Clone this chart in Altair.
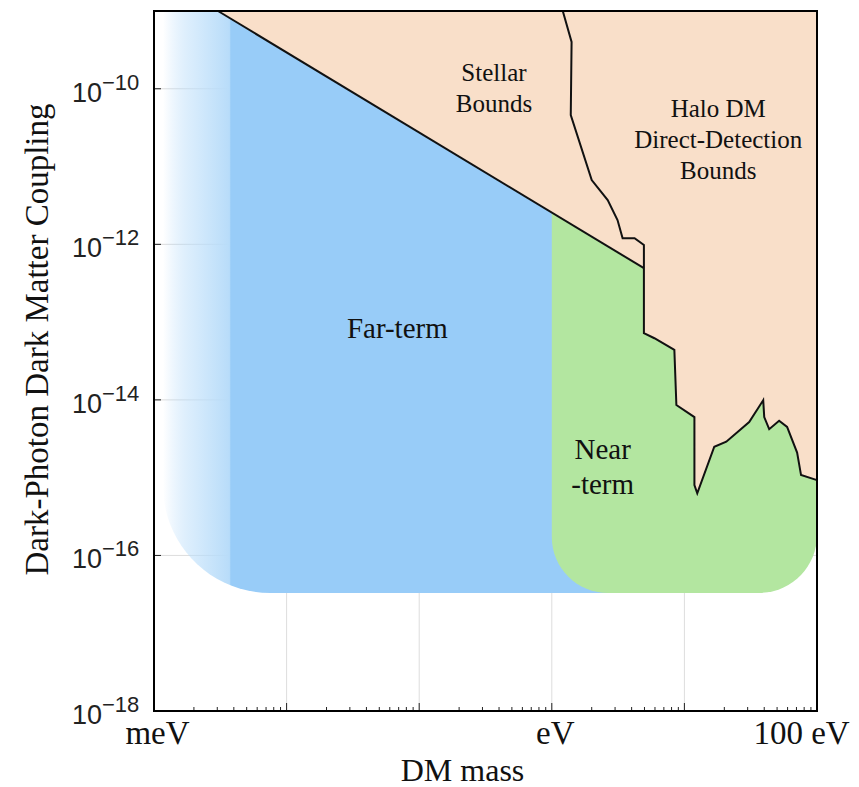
import altair as alt
import pandas as pd

# ---------------- data ----------------
X_DOMAIN = [1e-3, 100]          # DM mass, eV
Y_DOMAIN = [1e-18, 1e-9]        # coupling

x_label_values = [1e-3, 1, 100]
x_label_texts = ["meV", "eV", "100 eV"]
x_major_ticks = [1e-2, 1e-1, 1, 10]
x_minor_ticks = [d * 10.0 ** k for k in range(-3, 2) for d in range(2, 10)]

y_major_ticks = [1e-10, 1e-12, 1e-14, 1e-16, 1e-18]
y_exponents = ["\u221210", "\u221212", "\u221214", "\u221216", "\u221218"]

# stellar bound (straight line in log-log)
stellar_mass = [3.04e-3, 4.95]
stellar_coupling = [1e-9, 4.94e-13]

# halo DM direct-detection bound
halo_mass = [1.21, 1.41, 1.39, 2.0, 2.64, 3.13, 3.42, 4.21, 4.95, 4.95, 4.95, 5.94,
             8.4, 8.7, 11.9, 11.9, 12.5, 16.8, 20.7, 30.8, 39.3, 40.0, 43.6, 51.8,
             59.5, 70.8, 75.8, 100]
halo_coupling = [1e-9, 4.0e-10, 4.6e-11, 6.7e-12, 3.7e-12, 2.05e-12, 1.2e-12, 1.2e-12,
                 9.8e-13, 4.94e-13, 7.2e-14, 6.2e-14, 4.4e-14, 8.6e-15, 6.0e-15, 8.0e-16,
                 6.3e-16, 2.5e-15, 2.9e-15, 5.2e-15, 9.9e-15, 6.0e-15, 4.2e-15, 5.4e-15,
                 4.5e-15, 2.1e-15, 1.08e-15, 9.3e-16]
halo_join_index = 9   # where the halo bound meets the stellar line

far_mass = [1.17e-3, 4.95]
near_mass = [1, 100]
sensitivity_floor = 3.3e-17

# label anchors = centre of the first text line
labels_small = [
    {"m": 0.366, "g": 1.59e-10, "text": "Stellar\nBounds"},
    {"m": 18.0, "g": 5.47e-11, "text": "Halo DM\nDirect-Detection\nBounds"},
]
labels_big = [
    {"m": 0.0684, "g": 8.1e-14, "text": "Far-term"},
    {"m": 2.42, "g": 2.27e-15, "text": "Near\n-term"},
]

# ---------------- colours ----------------
BLUE = "#98CCF8"
GREEN = "#B3E6A0"
PEACH = "#F9DFC9"
W, H = 663, 700

xs = alt.Scale(type="log", domain=X_DOMAIN, nice=False)
ys = alt.Scale(type="log", domain=Y_DOMAIN, nice=False)

label_expr = (f"datum.value < 0.01 ? '{x_label_texts[0]}' : "
              f"(datum.value < 10 ? '{x_label_texts[1]}' : '{x_label_texts[2]}')")

X_AXIS = alt.Axis(values=x_label_values, labelExpr=label_expr, grid=False, ticks=False,
                  tickSize=0, domain=False, labelFont="Liberation Serif", labelFontSize=33,
                  labelColor="#111", labelBaseline="alphabetic", labelPadding=32,
                  labelFlush=False, labelOverlap=False, labelBound=False,
                  labelOffset={"condition": {"test": "datum.value >= 50", "value": -16}, "value": 3},
                  title="DM mass", titleFont="Liberation Serif", titleFontSize=32,
                  titleFontWeight="normal", titleColor="#111", titleX=308, titleY=69,
                  titleAlign="center", titleBaseline="alphabetic")
Y_AXIS = alt.Axis(labels=False, ticks=False, domain=False, grid=False,
                  title="Dark-Photon Dark Matter Coupling", titleFont="Liberation Serif",
                  titleFontSize=33, titleFontWeight="normal", titleColor="#111",
                  titleX=-107, titleY=328, titleAngle=270, titleAlign="center",
                  titleBaseline="alphabetic")


def X(f):
    return alt.X(f, type="quantitative", scale=xs, axis=X_AXIS)


def Y(f):
    return alt.Y(f, type="quantitative", scale=ys, axis=Y_AXIS)


one = pd.DataFrame({"a": [0]})

# grid
xgrid = alt.Chart(pd.DataFrame({"m": x_major_ticks})).mark_rule(
    color="#dddddd", strokeWidth=1).encode(x=X("m"))
ygrid = alt.Chart(pd.DataFrame({"g": y_major_ticks[:-1]})).mark_rule(
    color="#dddddd", strokeWidth=1).encode(y=Y("g"))

# far-term region (blue, faded on the left)
grad = alt.Gradient(gradient="linear", x1=0, x2=1, y1=0, y2=0, stops=[
    alt.GradientStop(offset=0, color="rgba(152,204,248,0)"),
    alt.GradientStop(offset=0.06, color="rgba(185,221,250,0.55)"),
    alt.GradientStop(offset=0.138, color="#B8DCF9"),
    alt.GradientStop(offset=0.141, color=BLUE),
    alt.GradientStop(offset=1, color=BLUE),
])
far_df = pd.DataFrame({"m1": [far_mass[0]], "m2": [far_mass[1]],
                       "g1": [sensitivity_floor], "g2": [Y_DOMAIN[1]]})
far = alt.Chart(far_df).mark_rect(fill=grad, cornerRadiusBottomLeft=107).encode(
    x=X("m1"), x2="m2", y=Y("g1"), y2="g2")

near_df = pd.DataFrame({"m1": [near_mass[0]], "m2": [near_mass[1]],
                        "g1": [sensitivity_floor], "g2": [Y_DOMAIN[1]]})
near = alt.Chart(near_df).mark_rect(color=GREEN, cornerRadiusBottomLeft=56,
                                    cornerRadiusBottomRight=58).encode(
    x=X("m1"), x2="m2", y=Y("g1"), y2="g2")

# excluded region (peach): between the top edge and the stellar + halo boundary
bound_m = stellar_mass + halo_mass[halo_join_index + 1:]
bound_g = stellar_coupling + halo_coupling[halo_join_index + 1:]
peach_df = pd.DataFrame({"m": bound_m, "g": bound_g, "top": [Y_DOMAIN[1]] * len(bound_m)})
peach = alt.Chart(peach_df).mark_area(color=PEACH, opacity=1, interpolate="linear").encode(
    x=X("m"), y=Y("g"), y2="top")

# black boundary lines
stellar_df = pd.DataFrame({"m": stellar_mass, "g": stellar_coupling, "i": [0, 1]})
stellar_line = alt.Chart(stellar_df).mark_line(color="#111", strokeWidth=2).encode(
    x=X("m"), y=Y("g"), order="i:Q")
halo_df = pd.DataFrame({"m": halo_mass, "g": halo_coupling, "i": list(range(len(halo_mass)))})
halo_line = alt.Chart(halo_df).mark_line(color="#111", strokeWidth=2, strokeJoin="miter").encode(
    x=X("m"), y=Y("g"), order="i:Q")

# region labels
txt_small = alt.Chart(pd.DataFrame(labels_small)).mark_text(
    font="Liberation Serif", fontSize=25, lineBreak="\n", lineHeight=31,
    align="center", baseline="middle", color="#111").encode(x=X("m"), y=Y("g"), text="text:N")
txt_big = alt.Chart(pd.DataFrame(labels_big)).mark_text(
    font="Liberation Serif", fontSize=29, lineBreak="\n", lineHeight=35,
    align="center", baseline="middle", color="#111").encode(x=X("m"), y=Y("g"), text="text:N")

# inward ticks
xt_major = alt.Chart(pd.DataFrame({"m": x_major_ticks})).mark_rule(color="#222", strokeWidth=1).encode(
    x=X("m"), y=alt.value(H), y2=alt.value(H - 8))
xt_minor = alt.Chart(pd.DataFrame({"m": x_minor_ticks})).mark_rule(color="#222", strokeWidth=1).encode(
    x=X("m"), y=alt.value(H), y2=alt.value(H - 4))
yt = alt.Chart(pd.DataFrame({"g": y_major_ticks[:-1]})).mark_rule(color="#222", strokeWidth=1).encode(
    y=Y("g"), x=alt.value(0), x2=alt.value(7))

# y tick labels 10^{exp}
ylab_df = pd.DataFrame({"g": y_major_ticks, "exp": y_exponents, "base": ["10"] * len(y_major_ticks)})
ylab_base = alt.Chart(ylab_df).mark_text(font="Liberation Sans", fontSize=27, align="right",
                                         baseline="alphabetic", dy=13, color="#222").encode(
    y=Y("g"), x=alt.value(-52), text="base:N")
ylab_exp = alt.Chart(ylab_df).mark_text(font="Liberation Sans", fontSize=22, align="left",
                                        baseline="alphabetic", dy=1, color="#222").encode(
    y=Y("g"), x=alt.value(-52), text="exp:N")

frame = alt.Chart(one).mark_rect(filled=False, stroke="black", strokeWidth=2).encode(
    x=alt.value(0), x2=alt.value(W), y=alt.value(0), y2=alt.value(H))

chart = alt.layer(
    xgrid, ygrid, far, near, peach, stellar_line, halo_line, txt_small, txt_big,
    xt_major, xt_minor, yt, ylab_base, ylab_exp, frame
).properties(
    width=W, height=H,
    autosize=alt.AutoSizeParams(type="none"),
    padding={"left": 154, "top": 11, "right": 42, "bottom": 76},
    background="white",
).configure_view(strokeWidth=0)

chart.save("out.html", embed_options={"renderer": "svg", "actions": False})
